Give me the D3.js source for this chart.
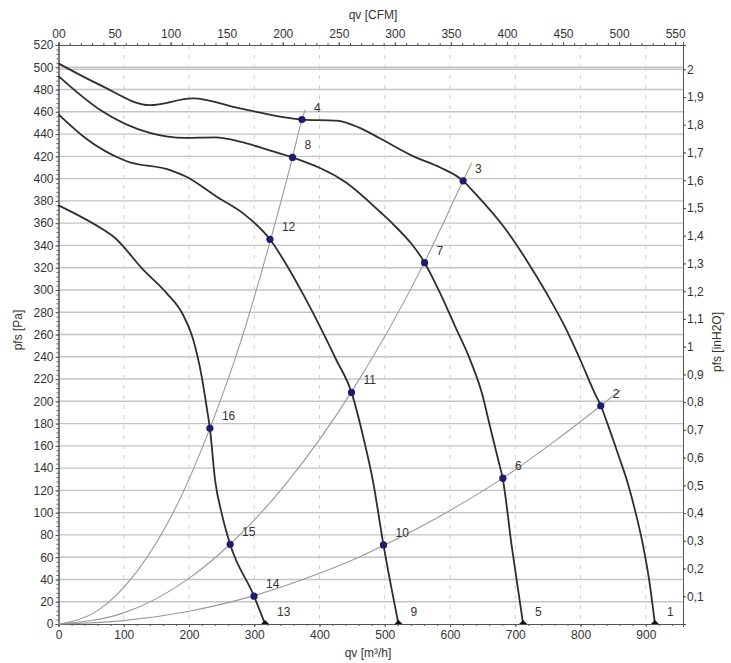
<!DOCTYPE html>
<html>
<head>
<meta charset="utf-8">
<script src="https://cdn.jsdelivr.net/npm/d3@7"></script>
<style>
  html,body{margin:0;padding:0;background:#fff;}
  svg text{font-family:"Liberation Sans",Arial,sans-serif;}
</style>
</head>
<body>
<svg id="chart" width="731" height="663"></svg>
<script>
// ---------- DATA ----------
// Fan curves [qv m3/h, pfs Pa]
const curveSpeed1 = [[0,503.5],[64,484],[140,466],[206,472],[278,463],[373,453],[426,452],[460,446],[493,436],[544,420],[585,410],[620,398],[638,387],[682,357],[717,327],[748,297],[776,267],[799,238],[822,207],[831,196],[840,182],[859,150],[871,129],[884,101],[896,70],[905,40],[914,0]];
const curveSpeed2 = [[0,492],[64,461.6],[140,441],[194,436.5],[240,437],[280,433],[320,426],[358.6,419],[441.7,396],[493,370],[513,359],[561,324.5],[585,297],[608,267],[631,237],[649,207],[661,178],[674,147],[680.7,130.8],[694.5,70],[712,0]];
const curveSpeed3 = [[0,457.7],[40,437],[104.5,415.6],[171,407.7],[196,401.7],[242.5,383.7],[283,368.8],[324,345.5],[350,322],[375,296],[400,268],[425,238],[449,208],[467,168],[482,128],[498,71],[521,0]];
const curveSpeed4 = [[0,376],[69,354],[84,348],[130,318],[166,297],[191,277.5],[206.6,255],[219.5,222],[227,195],[232,175.7],[240,129],[250,99.4],[263,71.6],[299.6,25.1],[316.5,0]];
// System (resistance) curves
const systemLow  = [[0,0],[100,3],[200,11.5],[300,25.5],[400,45.5],[462,60.4],[498,70.4],[600,102],[681,131],[760,164],[831,196],[861,210]];
const systemMid  = [[0,0],[100,10],[200,41],[263,71.6],[350,127],[449,208.5],[561,325],[620,398],[633,414]];
const systemHigh = [[0,0],[60,12],[120,47],[180,105],[232,175.7],[280,255],[324,343],[358.6,419],[373,453],[378,462]];
// Operating points
const pointLabels = [1,2,3,4,5,6,7,8,9,10,11,12,13,14,15,16];
const pointQ      = [914,831,620,373,712,681,561,358.6,521,498,449,324,316.5,299.6,263,232];
const pointP      = [0,196,398,453,0,131,324.5,419,0,71,208,345.5,0,25,71.6,175.7];
// Tick values
const paTicks   = d3.range(0,521,20);
const m3hTicks  = d3.range(0,901,100);
const cfmTicks  = d3.range(0,551,50);
const inh2oTicks= d3.range(1,21).map(d=>d/10);

// ---------- LAYOUT ----------
const L=58.5, R=683, T=45, B=624;
const x = d3.scaleLinear().domain([0,957]).range([L,R]);
const xCfm = d3.scaleLinear().domain([0,557]).range([L,R]);
const y = d3.scaleLinear().domain([0,520]).range([B,T]);
const yIn = d3.scaleLinear().domain([0,520/249.089]).range([B,T]);

const svg = d3.select("#chart");
const fmtComma = d => (Math.round(d*10)/10).toString().replace(".",",");

// grid
const g = svg.append("g");
g.selectAll("line.h").data(paTicks.filter(d=>d>0 && d<520)).join("line")
  .attr("x1",L).attr("x2",R).attr("y1",d=>y(d)).attr("y2",d=>y(d))
  .attr("stroke","#c4c4c4").attr("stroke-width",1.4);
g.append("line").attr("x1",L).attr("x2",R).attr("y1",yIn(2)).attr("y2",yIn(2))
  .attr("stroke","#c4c4c4").attr("stroke-width",1.4);
g.selectAll("line.v").data(m3hTicks.filter(d=>d>0)).join("line")
  .attr("x1",d=>x(d)).attr("x2",d=>x(d)).attr("y1",T).attr("y2",B)
  .attr("stroke","#cfcfcf").attr("stroke-width",1).attr("stroke-dasharray","4,6");

// axes
const axStyle = sel => {
  sel.selectAll("path,line").attr("stroke","#555");
  sel.selectAll("text").attr("fill","#333").attr("font-size",12);
};
// minor ticks
svg.append("g").attr("transform",`translate(${L},0)`)
  .call(d3.axisLeft(y).tickValues(d3.range(0,521,4)).tickSize(2).tickFormat(""))
  .call(axStyle);
svg.append("g").attr("transform",`translate(0,${B})`)
  .call(d3.axisBottom(x).tickValues(d3.range(0,951,20)).tickSize(2).tickFormat(""))
  .call(axStyle);
svg.append("g").attr("transform",`translate(0,${T})`)
  .call(d3.axisTop(xCfm).tickValues(d3.range(0,556,10)).tickSize(2).tickFormat(""))
  .call(axStyle);
svg.append("g").attr("transform",`translate(${R},0)`)
  .call(d3.axisRight(yIn).tickValues(d3.range(0,21).map(d=>d/10)).tickSize(2).tickFormat(""))
  .call(axStyle);
// major
svg.append("g").attr("transform",`translate(${L},0)`)
  .call(d3.axisLeft(y).tickValues(paTicks).tickSize(3).tickPadding(2))
  .call(axStyle);
svg.append("g").attr("transform",`translate(0,${B})`)
  .call(d3.axisBottom(x).tickValues(m3hTicks).tickSize(3).tickPadding(3))
  .call(axStyle);
svg.append("g").attr("transform",`translate(0,${T})`)
  .call(d3.axisTop(xCfm).tickValues(cfmTicks).tickSize(3).tickPadding(4).tickFormat(d=>d===0?"00":d))
  .call(axStyle);
svg.append("g").attr("transform",`translate(${R},0)`)
  .call(d3.axisRight(yIn).tickValues(inh2oTicks).tickSize(3).tickPadding(1).tickFormat(fmtComma))
  .call(axStyle);

// axis titles
svg.append("text").attr("x",373).attr("y",19).attr("text-anchor","middle")
  .attr("font-size",12).attr("fill","#333").text("qv [CFM]");
svg.append("text").attr("x",368).attr("y",657).attr("text-anchor","middle")
  .attr("font-size",12).attr("fill","#333").text("qv [m³/h]");
svg.append("text").attr("transform","translate(22,330) rotate(-90)").attr("text-anchor","middle")
  .attr("font-size",12).attr("fill","#333").text("pfs [Pa]");
svg.append("text").attr("transform","translate(721,342) rotate(-90)").attr("text-anchor","middle")
  .attr("font-size",12).attr("fill","#333").text("pfs [inH2O]");

// curves
const line = d3.line().x(d=>x(d[0])).y(d=>y(d[1])).curve(d3.curveMonotoneX);
[systemLow,systemMid,systemHigh].forEach(c=>{
  svg.append("path").attr("d",line(c)).attr("fill","none")
    .attr("stroke","#9a9a9a").attr("stroke-width",1.1);
});
[curveSpeed1,curveSpeed2,curveSpeed3,curveSpeed4].forEach(c=>{
  svg.append("path").attr("d",line(c)).attr("fill","none")
    .attr("stroke","#2e2e2e").attr("stroke-width",1.8);
});

// points
const pts = pointLabels.map((n,i)=>({n, q:pointQ[i], p:pointP[i]}));
svg.selectAll("circle.pt").data(pts.filter(d=>d.p>0)).join("circle")
  .attr("cx",d=>x(d.q)).attr("cy",d=>y(d.p)).attr("r",3.6).attr("fill","#1c1c70");
svg.selectAll("path.tri").data(pts.filter(d=>d.p===0)).join("path")
  .attr("d",d=>{const cx=x(d.q), cy=y(d.p); return `M${cx-4},${cy}L${cx},${cy-4}L${cx+4},${cy}Z`;})
  .attr("fill","#111");
svg.selectAll("text.lbl").data(pts).join("text")
  .attr("x",d=>x(d.q)+12).attr("y",d=>y(d.p)-8)
  .attr("font-size",12).attr("fill","#333").text(d=>d.n);
</script>
</body>
</html>
